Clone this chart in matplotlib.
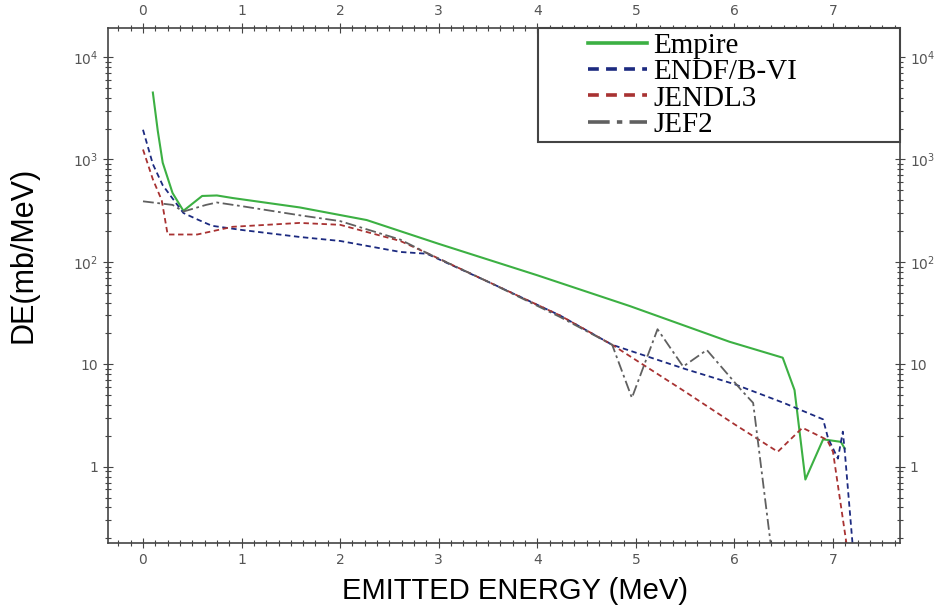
import numpy as np
import matplotlib
matplotlib.use("Agg")
import matplotlib.pyplot as plt
from matplotlib.ticker import FixedLocator, FixedFormatter, MultipleLocator, LogLocator, NullFormatter

# emitted energy (MeV) / DE (mb/MeV)
empire_x = [0.10, 0.15, 0.20, 0.30, 0.41, 0.60, 0.75, 0.91, 1.59, 2.27, 3.0, 4.0, 4.94, 5.95, 6.49, 6.61, 6.72, 6.90, 7.08, 7.12]
empire_y = [4500, 1900, 930, 470, 315, 440, 445, 420, 340, 256, 150, 74, 37, 16.6, 11.6, 5.6, 0.75, 1.85, 1.75, 1.5]

endf_x = [0.0, 0.1, 0.2, 0.41, 0.55, 0.70, 1.0, 1.59, 2.0, 2.61, 2.88, 3.5, 4.23, 4.76, 5.5, 6.0, 6.5, 6.90, 6.95, 7.05, 7.10, 7.12, 7.20]
endf_y = [1950, 900, 560, 300, 260, 225, 205, 175, 160, 125, 120, 64, 30, 15.5, 9.0, 6.4, 4.2, 2.9, 1.9, 1.2, 2.2, 1.4, 0.17]

jendl_x = [0.0, 0.1, 0.19, 0.25, 0.55, 0.91, 1.59, 2.0, 2.61, 2.88, 3.5, 4.23, 4.76, 5.5, 6.0, 6.44, 6.69, 6.94, 7.0, 7.14]
jendl_y = [1250, 640, 400, 185, 185, 220, 240, 230, 160, 122, 64, 30, 15.5, 5.4, 2.6, 1.4, 2.4, 1.83, 1.4, 0.17]

jef2_x = [0.0, 0.3, 0.41, 0.64, 0.75, 1.0, 1.59, 2.0, 2.61, 2.88, 3.5, 4.23, 4.76, 4.96, 5.22, 5.48, 5.72, 6.07, 6.19, 6.37]
jef2_y = [390, 360, 310, 360, 380, 350, 285, 250, 165, 122, 64, 29, 15.5, 4.7, 22, 9.5, 13.8, 5.6, 4.2, 0.17]

series_names = ["Empire", "ENDF/B-VI", "JENDL3", "JEF2"]

ytick_vals = [1, 10, 100, 1000, 10000]
ytick_text = ["1", "10", r"$10^2$", r"$10^3$", r"$10^4$"]

fig = plt.figure(figsize=(9.35, 6.12), dpi=100)
ax = fig.add_axes([108 / 935, 1 - 543 / 612, 792 / 935, 515 / 612])

ax.plot(empire_x, empire_y, color="#3cb043", lw=1.5, ls="-", label=series_names[0])
ax.plot(endf_x, endf_y, color="#1c2a80", lw=1.3, ls=(0, (3, 2)), label=series_names[1])
ax.plot(jendl_x, jendl_y, color="#a83232", lw=1.3, ls=(0, (3, 2)), label=series_names[2])
ax.plot(jef2_x, jef2_y, color="#606060", lw=1.3, ls=(0, (6, 2, 1.5, 2)), label=series_names[3])

ax.set_yscale("log")
ax.set_xlim(-0.355, 7.68)
ax.set_ylim(0.18, 19200)

ax.xaxis.set_major_locator(MultipleLocator(1))
ax.xaxis.set_minor_locator(MultipleLocator(0.125))
ax.yaxis.set_major_locator(FixedLocator(ytick_vals))
ax.yaxis.set_major_formatter(FixedFormatter(ytick_text))
ax.yaxis.set_minor_locator(LogLocator(base=10, subs=np.arange(2, 10)))
ax.yaxis.set_minor_formatter(NullFormatter())

ax.tick_params(which="both", direction="inout", top=True, right=True,
               labeltop=True, labelright=True, colors="#444444",
               labelcolor="#555555", labelsize=10, width=0.8)
ax.tick_params(which="major", length=7)
ax.tick_params(which="minor", length=4)
for s in ax.spines.values():
    s.set_color("#444444")
    s.set_linewidth(1.2)

ax.set_xlabel("EMITTED ENERGY (MeV)", fontsize=21, family="Liberation Sans")
ax.set_ylabel("DE(mb/MeV)", fontsize=22, family="Liberation Sans")
ax.xaxis.set_label_coords(0.514, -0.066)
ax.yaxis.set_label_coords(-0.088, 0.559)

leg = ax.legend(loc="upper left", bbox_to_anchor=(0.543, 0.769, 0.457, 0.231), mode="expand",
                borderaxespad=0, fancybox=False, framealpha=1, edgecolor="#444444",
                prop={"family": "Liberation Serif", "size": 21}, handlelength=3.6,
                labelspacing=0.0, borderpad=0.15, handletextpad=0.2)
leg.get_frame().set_linewidth(1.5)
# line sits in the right part of each handle box
for ln in leg.get_lines():
    xd = np.asarray(ln.get_xdata(), dtype=float)
    yd = np.asarray(ln.get_ydata(), dtype=float)
    x0, x1 = xd.min(), xd.max()
    ln.set_data([x0 + 0.43 * (x1 - x0), x1], [yd[0], yd[0]])
    ln.set_linewidth(2.6)

fig.savefig("out.png", dpi=100)
